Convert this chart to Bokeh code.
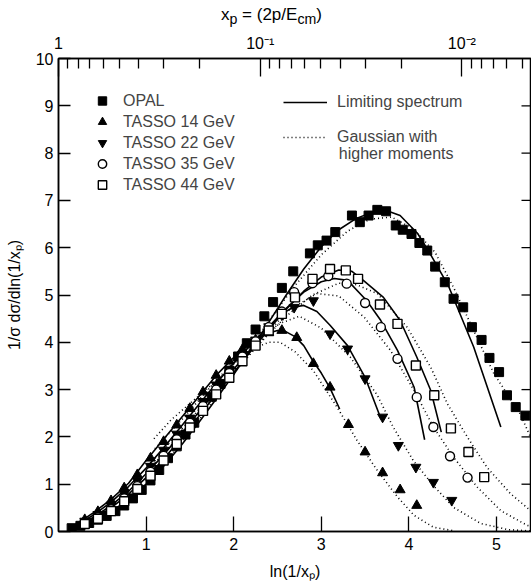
import math
from bokeh.plotting import figure
from bokeh.layouts import column
from bokeh.models import Range1d, LinearAxis, FixedTicker, Legend, LegendItem, Label, Div
from bokeh.embed import file_html
from bokeh.resources import INLINE

FONT = "Liberation Sans"

# ---------------- data: markers ----------------
opal_x = [0.15, 0.25, 0.35, 0.45, 0.55, 0.65, 0.75, 0.85, 0.95, 1.05, 1.15, 1.25, 1.35, 1.45,
          1.55, 1.65, 1.75, 1.85, 1.95, 2.05, 2.15, 2.25, 2.35, 2.45, 2.55, 2.68, 2.87, 2.96,
          3.06, 3.16, 3.35, 3.44, 3.54, 3.64, 3.74, 3.85, 3.93, 4.03, 4.12, 4.21, 4.30, 4.41,
          4.51, 4.62, 4.72, 4.83, 4.92, 5.03, 5.12, 5.22, 5.33]
opal_y = [0.07, 0.12, 0.18, 0.25, 0.33, 0.43, 0.55, 0.70, 0.88, 1.08, 1.30, 1.55, 1.80, 2.05,
          2.30, 2.58, 2.85, 3.12, 3.40, 3.70, 3.98, 4.27, 4.55, 4.85, 5.15, 5.50, 5.88, 6.05,
          6.15, 6.33, 6.68, 6.54, 6.68, 6.80, 6.77, 6.47, 6.38, 6.29, 6.10, 5.94, 5.60, 5.27,
          4.92, 4.74, 4.32, 4.05, 3.67, 3.37, 2.88, 2.63, 2.45]

t14_x = [0.30, 0.45, 0.60, 0.75, 0.90, 1.05, 1.20, 1.35, 1.50, 1.65, 1.80, 1.95, 2.10, 2.25,
         2.40, 2.55, 2.72, 2.91, 3.10, 3.31, 3.50, 3.70, 3.90, 4.09]
t14_y = [0.25, 0.42, 0.65, 0.92, 1.20, 1.55, 1.90, 2.25, 2.60, 2.95, 3.30, 3.60, 3.85, 4.05,
         4.20, 4.25, 4.10, 3.55, 3.05, 2.26, 1.68, 1.24, 0.88, 0.55]

t22_x = [0.30, 0.45, 0.60, 0.75, 0.90, 1.05, 1.20, 1.35, 1.50, 1.65, 1.80, 1.95, 2.10, 2.25,
         2.40, 2.55, 2.69, 2.91, 3.10, 3.30, 3.50, 3.70, 3.88, 4.08, 4.28, 4.49]
t22_y = [0.22, 0.36, 0.56, 0.80, 1.07, 1.38, 1.72, 2.06, 2.40, 2.75, 3.10, 3.42, 3.75, 4.05,
         4.33, 4.58, 4.74, 4.88, 4.18, 3.86, 3.23, 2.42, 1.82, 1.36, 1.04, 0.66]

t35_x = [0.30, 0.45, 0.60, 0.75, 0.90, 1.05, 1.20, 1.35, 1.50, 1.65, 1.80, 1.95, 2.10, 2.25,
         2.40, 2.55, 2.69, 2.90, 3.08, 3.29, 3.50, 3.68, 3.87, 4.09, 4.28, 4.47, 4.67]
t35_y = [0.18, 0.30, 0.47, 0.70, 0.96, 1.26, 1.60, 1.95, 2.30, 2.65, 3.00, 3.35, 3.70, 4.02,
         4.32, 4.65, 5.06, 5.25, 5.40, 5.24, 4.83, 4.32, 3.65, 2.84, 2.21, 1.59, 1.14]

t44_x = [0.30, 0.45, 0.60, 0.75, 0.90, 1.05, 1.20, 1.35, 1.50, 1.65, 1.80, 1.95, 2.10, 2.25,
         2.40, 2.55, 2.70, 2.90, 3.10, 3.28, 3.42, 3.67, 3.87, 4.08, 4.29, 4.48, 4.68, 4.86]
t44_y = [0.16, 0.27, 0.43, 0.64, 0.90, 1.18, 1.50, 1.85, 2.20, 2.55, 2.90, 3.25, 3.60, 3.93,
         4.25, 4.60, 4.95, 5.34, 5.55, 5.52, 5.34, 4.80, 4.39, 3.51, 2.88, 2.18, 1.68, 1.15]

# ---------------- data: curves (limiting spectrum = solid, gaussian = dotted) ----------------
opal_lim_x = [0.2, 0.4, 0.6, 0.8, 1.0, 1.2, 1.4, 1.6, 1.8, 2.0, 2.2, 2.4, 2.6, 2.8, 3.0, 3.2,
              3.4, 3.6, 3.75, 3.9, 4.1, 4.25, 4.45, 4.74, 5.05]
opal_lim_y = [0.09, 0.22, 0.42, 0.68, 1.00, 1.38, 1.82, 2.30, 2.80, 3.32, 3.86, 4.42, 5.00, 5.55,
              6.02, 6.38, 6.62, 6.76, 6.78, 6.68, 6.30, 5.85, 5.20, 3.90, 2.21]
opal_gau_x = [1.2, 1.5, 1.8, 2.1, 2.4, 2.7, 3.0, 3.3, 3.55, 3.8, 4.05, 4.3, 4.51, 4.97, 5.27, 5.39]
opal_gau_y = [1.40, 2.10, 2.85, 3.65, 4.45, 5.20, 5.85, 6.35, 6.60, 6.65, 6.40, 5.90, 5.16, 3.34,
              2.49, 1.99]

t14_lim_x = [0.2, 0.4, 0.6, 0.8, 1.0, 1.2, 1.4, 1.6, 1.8, 2.0, 2.2, 2.35, 2.5, 2.6, 2.7, 2.8,
             2.9, 3.0, 3.1, 3.21]
t14_lim_y = [0.15, 0.40, 0.68, 1.02, 1.50, 1.95, 2.40, 2.85, 3.30, 3.68, 4.00, 4.17, 4.25, 4.22,
             4.12, 3.93, 3.62, 3.35, 3.03, 2.59]
t14_gau_x = [1.09, 1.28, 1.54, 1.85, 2.00, 2.2, 2.4, 2.53, 2.7, 2.91, 3.18, 3.41, 3.64, 3.87,
             4.06, 4.28, 4.5]
t14_gau_y = [1.96, 2.35, 2.77, 3.26, 3.55, 3.85, 4.00, 4.00, 3.80, 3.40, 2.63, 1.92, 1.29, 0.73,
             0.34, 0.09, 0.02]

t22_lim_x = [0.2, 0.4, 0.6, 0.8, 1.0, 1.2, 1.4, 1.6, 1.8, 2.0, 2.2, 2.4, 2.53, 2.68, 2.8, 2.95,
             3.1, 3.3, 3.5, 3.68]
t22_lim_y = [0.13, 0.35, 0.62, 0.95, 1.34, 1.77, 2.22, 2.68, 3.13, 3.56, 3.96, 4.33, 4.58, 4.74,
             4.78, 4.65, 4.36, 3.93, 3.26, 2.39]
t22_gau_x = [1.1, 1.4, 1.7, 2.0, 2.3, 2.53, 2.75, 3.0, 3.33, 3.64, 3.82, 4.05, 4.28, 4.51, 4.82,
             5.13, 5.4]
t22_gau_y = [1.75, 2.35, 2.98, 3.60, 4.10, 4.40, 4.55, 4.30, 3.69, 2.88, 2.21, 1.50, 0.97, 0.51,
             0.17, 0.04, 0.01]

t35_lim_x = [0.2, 0.4, 0.6, 0.8, 1.0, 1.2, 1.4, 1.6, 1.8, 2.0, 2.2, 2.4, 2.6, 2.8, 3.0, 3.15,
             3.3, 3.52, 3.68, 3.87, 4.06, 4.18]
t35_lim_y = [0.11, 0.30, 0.55, 0.85, 1.22, 1.62, 2.06, 2.52, 2.98, 3.43, 3.87, 4.30, 4.72, 5.06,
             5.28, 5.35, 5.31, 4.88, 4.46, 3.83, 3.05, 1.94]
t35_gau_x = [1.1, 1.4, 1.7, 2.0, 2.3, 2.6, 2.95, 3.2, 3.49, 3.79, 4.06, 4.28, 4.51, 4.78, 5.05,
             5.35, 5.4]
t35_gau_y = [1.55, 2.15, 2.78, 3.40, 4.00, 4.65, 5.03, 4.98, 4.53, 3.83, 2.98, 2.21, 1.57, 0.94,
             0.44, 0.13, 0.11]

t44_lim_x = [0.2, 0.4, 0.6, 0.8, 1.0, 1.2, 1.4, 1.6, 1.8, 2.0, 2.2, 2.4, 2.6, 2.8, 3.0, 3.2,
             3.35, 3.48, 3.71, 3.9, 4.09, 4.25, 4.37]
t44_lim_y = [0.10, 0.27, 0.50, 0.79, 1.14, 1.53, 1.97, 2.43, 2.90, 3.36, 3.82, 4.27, 4.70, 5.08,
             5.38, 5.53, 5.50, 5.31, 4.95, 4.46, 3.69, 2.98, 2.10]
t44_gau_x = [1.1, 1.4, 1.7, 2.0, 2.3, 2.6, 2.9, 3.2, 3.4, 3.64, 3.98, 4.25, 4.44, 4.67, 4.89,
             5.16, 5.39]
t44_gau_y = [1.45, 2.05, 2.70, 3.35, 3.98, 4.55, 5.00, 5.25, 5.22, 5.03, 4.32, 3.47, 2.70, 1.99,
             1.36, 0.80, 0.44]

# ---------------- axis tick values and texts ----------------
X_END = 5.4
x_ticks = [1, 2, 3, 4, 5]
y_ticks = [0, 1, 2, 3, 4, 5, 6, 7, 8, 9, 10]
right_ticks = [1, 2, 3, 4, 5, 6, 7, 8, 9]
xp_major = [1.0, 0.1, 0.01]
xp_major_labels = ["1", "10\u207b\u00b9", "10\u207b\u00b2"]
xp_minor = [0.9, 0.8, 0.7, 0.6, 0.5, 0.4, 0.3, 0.2,
            0.09, 0.08, 0.07, 0.06, 0.05, 0.04, 0.03, 0.02,
            0.009, 0.008, 0.007, 0.006, 0.005]

series_labels = ["OPAL", "TASSO 14 GeV", "TASSO 22 GeV", "TASSO 35 GeV", "TASSO 44 GeV"]
curve_labels = ["Limiting spectrum", "Gaussian with", "higher moments"]
top_title_html = "x<sub>p</sub> = (2p/E<sub>cm</sub>)"

# ---------------- title strip (HTML text with real subscripts) ----------------
TITLE_H = 30
title_div = Div(text=top_title_html, width=531, height=TITLE_H, margin=(0, 0, 0, 0),
                styles={"font-family": FONT, "font-size": "17px", "line-height": f"{TITLE_H}px",
                        "padding-left": "221px", "color": "black", "white-space": "nowrap"})

# ---------------- figure ----------------
p = figure(width=531, height=588 - TITLE_H, x_range=Range1d(0, X_END), y_range=Range1d(0, 10),
           output_backend="svg", toolbar_location=None,
           x_axis_location=None, y_axis_location=None,
           min_border_left=58, min_border_right=0, min_border_top=58 - TITLE_H,
           min_border_bottom=57, margin=(0, 0, 0, 0))
p.xgrid.visible = False
p.ygrid.visible = False
p.outline_line_color = "black"
p.outline_line_width = 1.5
p.background_fill_color = "white"
p.border_fill_color = "white"


def style_axis(ax, tick_in, label_standoff):
    ax.axis_line_width = 1.5
    ax.major_tick_line_width = 1.3
    ax.minor_tick_line_width = 1.3
    ax.major_tick_in = tick_in
    ax.major_tick_out = 0
    ax.minor_tick_out = 0
    ax.major_label_standoff = label_standoff
    ax.major_label_text_font = FONT
    ax.major_label_text_font_size = "16px"
    ax.major_label_text_color = "black"
    ax.axis_label_text_font = FONT
    ax.axis_label_text_font_size = "16px"
    ax.axis_label_text_font_style = "normal"
    ax.axis_label_text_color = "black"


bottom = LinearAxis(ticker=FixedTicker(ticks=x_ticks, minor_ticks=[]), axis_label="ln(1/x\u209a)")
style_axis(bottom, 15, 6)
bottom.minor_tick_in = 0
bottom.axis_label_standoff = 10
p.add_layout(bottom, "below")

left = LinearAxis(ticker=FixedTicker(ticks=y_ticks, minor_ticks=[]),
                  axis_label="1/\u03c3 d\u03c3/dln(1/x\u209a)")
style_axis(left, 12, 5)
left.minor_tick_in = 0
left.axis_label_standoff = 10
p.add_layout(left, "left")

top_pos = [math.log(1.0 / v) for v in xp_major]
top_minor = [math.log(1.0 / v) for v in xp_minor]
top = LinearAxis(ticker=FixedTicker(ticks=top_pos, minor_ticks=top_minor),
                 major_label_overrides={pos: lab for pos, lab in zip(top_pos, xp_major_labels)})
style_axis(top, 18, 7)
top.minor_tick_in = 10
p.add_layout(top, "above")

# inward ticks on the right frame edge
p.ray(x=[X_END] * len(right_ticks), y=right_ticks, length=10, length_units="screen",
      angle=math.pi, line_color="black", line_width=1.3)

# curves
solid_kw = dict(line_color="black", line_width=1.6)
dot_kw = dict(line_color="black", line_width=1.6, line_dash="1 3")
r_lim = None
r_gau = None
for lx, ly, gx, gy in [(opal_lim_x, opal_lim_y, opal_gau_x, opal_gau_y),
                       (t14_lim_x, t14_lim_y, t14_gau_x, t14_gau_y),
                       (t22_lim_x, t22_lim_y, t22_gau_x, t22_gau_y),
                       (t35_lim_x, t35_lim_y, t35_gau_x, t35_gau_y),
                       (t44_lim_x, t44_lim_y, t44_gau_x, t44_gau_y)]:
    rl = p.line(lx, ly, **solid_kw)
    rg = p.line(gx, gy, **dot_kw)
    if r_lim is None:
        r_lim, r_gau = rl, rg

# markers
MS = 9
r_opal = p.scatter(opal_x, opal_y, marker="square", size=MS, fill_color="black", line_color="black")
r_14 = p.scatter(t14_x, t14_y, marker="triangle", size=MS + 1, fill_color="black", line_color="black")
r_22 = p.scatter(t22_x, t22_y, marker="inverted_triangle", size=MS + 1, fill_color="black",
                 line_color="black")
r_35 = p.scatter(t35_x, t35_y, marker="circle", size=MS, fill_color="white", line_color="black",
                 line_width=1.4)
r_44 = p.scatter(t44_x, t44_y, marker="square", size=MS, fill_color="white", line_color="black",
                 line_width=1.4)

leg_common = dict(orientation="vertical", padding=0, margin=0, label_text_font=FONT,
                  border_line_alpha=0, background_fill_alpha=0)

leg1 = Legend(items=[LegendItem(label=lab, renderers=[r]) for lab, r in
                     zip(series_labels, [r_opal, r_14, r_22, r_35, r_44])],
              location=(33, 336), glyph_width=22, glyph_height=21, label_height=21, spacing=0,
              label_standoff=10, label_text_font_size="16px", **leg_common)
p.add_layout(leg1)

leg2 = Legend(items=[LegendItem(label=curve_labels[0], renderers=[r_lim]),
                     LegendItem(label=curve_labels[1], renderers=[r_gau])],
              location=(225, 384), glyph_width=44, glyph_height=20, label_height=20, spacing=15,
              label_standoff=10, label_text_font_size="16px", **leg_common)
p.add_layout(leg2)

p.add_layout(Label(x=3.2, y=7.99, text=curve_labels[2], text_font=FONT, text_font_size="16px",
                   text_baseline="middle", text_align="left"))

layout = column(title_div, p, spacing=0)
open("out.html", "w").write(file_html(layout, INLINE))
